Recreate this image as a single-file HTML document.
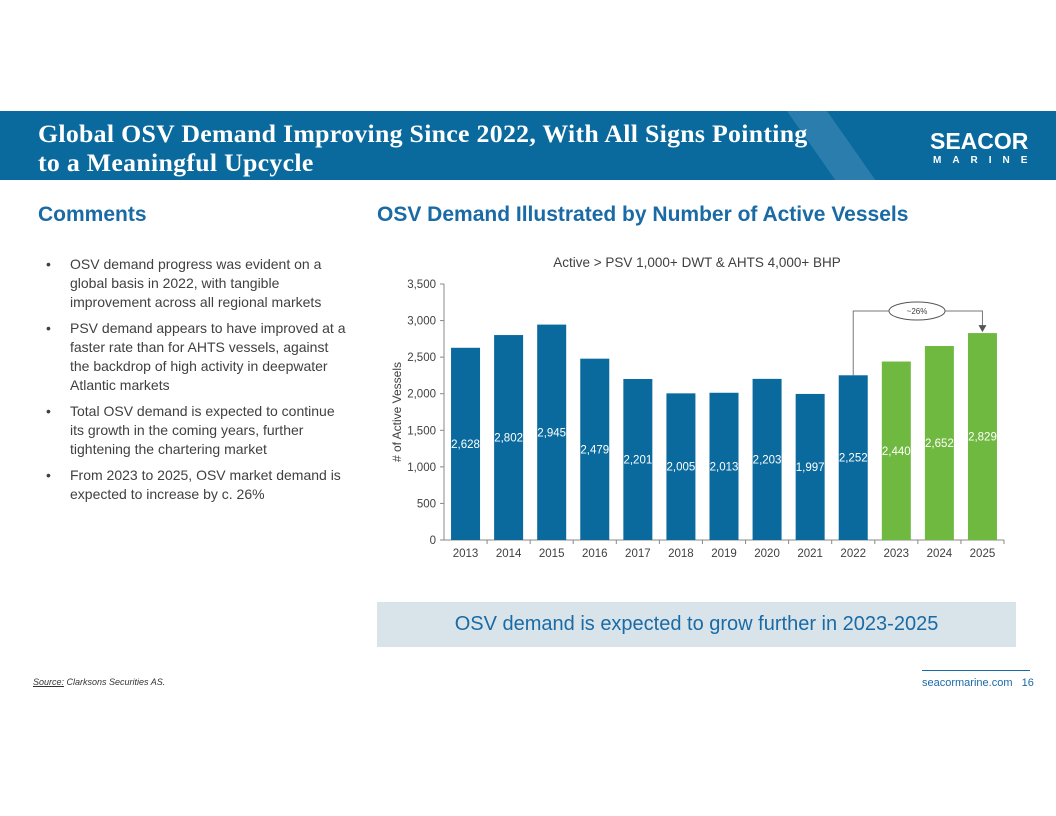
<!DOCTYPE html>
<html><head><meta charset="utf-8"><style>
body{margin:0;width:1056px;height:816px;background:#fff;position:relative;overflow:hidden;font-family:"Liberation Sans",sans-serif}
.abs{position:absolute}
.band{left:0;top:111px;width:1056px;height:69px;background:#0a6a9e;overflow:hidden}
.title{left:38px;top:119px;color:#fff;font-family:"Liberation Serif",serif;font-weight:bold;font-size:25.8px;line-height:29px;letter-spacing:0.3px}
h2{margin:0;position:absolute;font-size:21px;font-weight:bold;color:#1a6aa5}
ul{position:absolute;left:38px;top:255px;width:308px;margin:0;padding:0;list-style:none;color:#404040;font-size:14px;line-height:19px}
li{position:relative;padding-left:32px;margin-bottom:7px}
li:before{content:"•";position:absolute;left:8px}
</style></head><body>
<div class="abs band">
<div class="abs" style="left:815px;top:0;width:40px;height:80px;background:#3f8bb8;transform:skewX(35deg);opacity:.6"></div>
</div>
<div class="abs title">Global OSV Demand Improving Since 2022, With All Signs Pointing<br>to a Meaningful Upcycle</div>
<div class="abs" style="left:930px;top:128px;color:#fff;font-weight:bold;font-size:23px">SEACOR</div>
<div class="abs" style="left:933px;top:155px;color:#fff;font-weight:bold;font-size:10px;letter-spacing:11px">MARINE</div>
<h2 style="left:38px;top:203px">Comments</h2>
<h2 style="left:377px;top:203px">OSV Demand Illustrated by Number of Active Vessels</h2>
<ul>
<li>OSV demand progress was evident on a global basis in 2022, with tangible improvement across all regional markets</li>
<li>PSV demand appears to have improved at a faster rate than for AHTS vessels, against the backdrop of high activity in deepwater Atlantic markets</li>
<li>Total OSV demand is expected to continue its growth in the coming years, further tightening the chartering market</li>
<li>From 2023 to 2025, OSV market demand is expected to increase by c. 26%</li>
</ul>
<svg class="abs" style="left:0;top:0" width="1056" height="816">
<g id="g"></g>
</svg>
<div class="abs" style="left:377px;top:602px;width:639px;height:45px;background:#d9e4ea;color:#1a6aa5;font-size:20px;line-height:45px;text-align:center">OSV demand is expected to grow further in 2023-2025</div>
<div class="abs" style="left:33px;top:677px;font-size:9px;font-style:italic;color:#333"><u>Source:</u> Clarksons Securities AS.</div>
<div class="abs" style="left:922px;top:670px;width:108px;height:1px;background:#1a6aa5"></div>
<div class="abs" style="left:922px;top:677px;font-size:11px;color:#1a6aa5">seacormarine.com &nbsp;&nbsp;16</div>
<script>
const years=["2013","2014","2015","2016","2017","2018","2019","2020","2021","2022","2023","2024","2025"];
const values=[2628,2802,2945,2479,2201,2005,2013,2203,1997,2252,2440,2652,2829];
const forecast=[false,false,false,false,false,false,false,false,false,false,true,true,true];
const yTicks=[0,500,1000,1500,2000,2500,3000,3500];
const NS="http://www.w3.org/2000/svg",g=document.getElementById('g');
const x0=444,x1=1004,yb=540,yt=284,yMax=3500;
const bw=(x1-x0)/years.length;
const y=v=>yb-(v/yMax)*(yb-yt);
const xc=i=>x0+bw*(i+0.5);
function mk(t,a,txt){const e=document.createElementNS(NS,t);for(const k in a)e.setAttribute(k,a[k]);if(txt!=null)e.textContent=txt;g.appendChild(e);return e;}
let e=mk('text',{x:697,y:267,'text-anchor':'middle','font-size':13.5,fill:'#404040'},'Active > PSV 1,000+ DWT & AHTS 4,000+ BHP');

e=mk('line',{x1:x0,y1:yt,x2:x0,y2:yb,stroke:'#888'});

e=mk('line',{x1:x0,y1:yb,x2:x1,y2:yb,stroke:'#888'});

yTicks.forEach(t=>{
 e=mk('line',{x1:x0-4,y1:y(t),x2:x0,y2:y(t),stroke:'#888'});
 
 e=mk('text',{x:x0-8,y:y(t)+4,'text-anchor':'end','font-size':11.5,fill:'#404040'},t.toLocaleString('en-US'));
 
});
e=mk('text',{transform:`translate(401,412) rotate(-90)`,'text-anchor':'middle','font-size':12,fill:'#404040'},'# of Active Vessels');

years.forEach((yr,i)=>{
 const v=values[i],c=forecast[i]?'#6fb940':'#0a6a9e';
 e=mk('rect',{x:xc(i)-14.5,y:y(v),width:29,height:yb-y(v),fill:c});
 
 e=mk('text',{x:xc(i),y:y(v/2)+4,'text-anchor':'middle','font-size':11.5,fill:'#fff'},v.toLocaleString('en-US'));
 
 e=mk('line',{x1:x0+bw*(i+1),y1:yb,x2:x0+bw*(i+1),y2:yb+4,stroke:'#888'});
 
 e=mk('text',{x:xc(i),y:yb+17,'text-anchor':'middle','font-size':11.5,fill:'#404040'},yr);
 
});
const ay=311,ia=9,ib=12;
e=mk('path',{d:`M${xc(ia)},${y(values[ia])} V${ay} H${xc(ib)} V${y(values[ib])-7}`,fill:'none',stroke:'#777'});

e=mk('path',{d:`M${xc(ib)-4},${y(values[ib])-8} h8 l-4,7 z`,fill:'#555'});

e=mk('ellipse',{cx:917,cy:ay,rx:28,ry:9,fill:'#fff',stroke:'#555'});

e=mk('text',{x:917,y:ay+3,'text-anchor':'middle','font-size':8,fill:'#404040'},'~26%');

</script>
</body></html>
